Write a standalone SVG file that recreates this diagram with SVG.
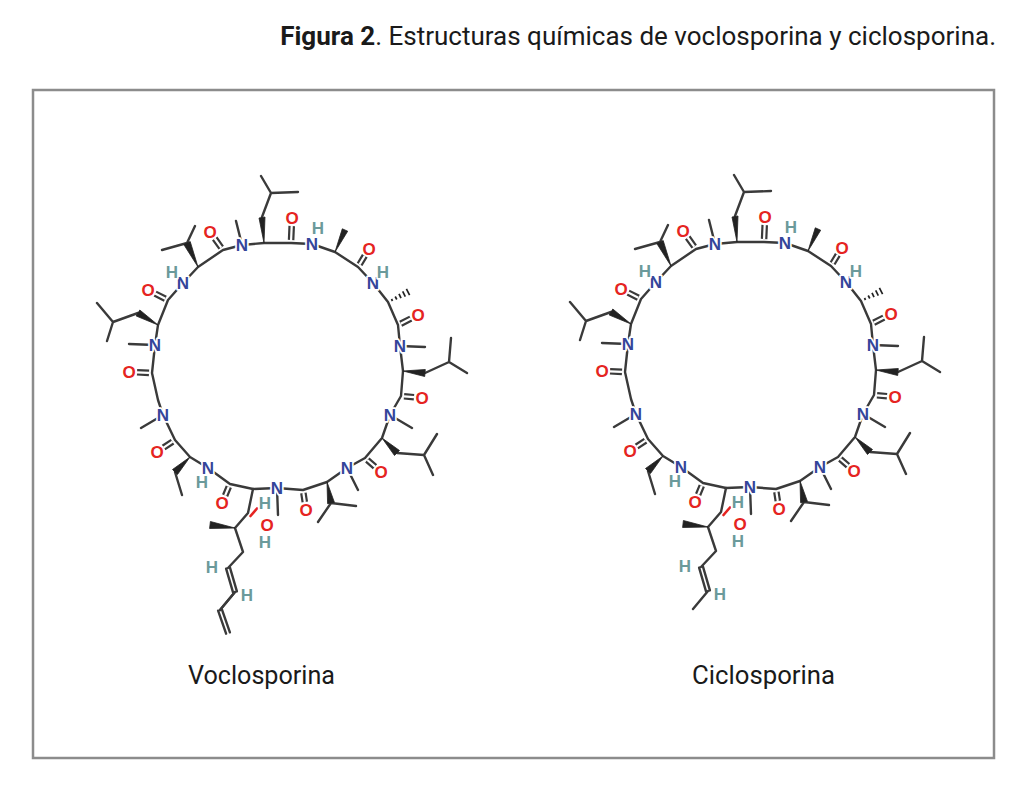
<svg xmlns="http://www.w3.org/2000/svg" xmlns:xlink="http://www.w3.org/1999/xlink" width="1024" height="788" viewBox="0 0 1024 788">
<style>
.bd{fill:none;stroke:#3a3a3a;stroke-width:2.4;stroke-linecap:round;stroke-linejoin:round}
.dk{fill:none;stroke:#3a3a3a;stroke-width:6.6;stroke-linecap:butt}
.wh{fill:none;stroke:#ffffff;stroke-width:2.2;stroke-linecap:butt}
.wg{fill:#222222;stroke:#222222;stroke-width:0.8;stroke-linejoin:round}
.hs{stroke:#222222;stroke-width:1.7}
.lab{font-family:"Liberation Sans",Arial,sans-serif;font-weight:bold;font-size:17px;text-anchor:middle;paint-order:stroke;stroke:#ffffff;stroke-width:3.5;stroke-linejoin:round}
.N{fill:#34459a}.O{fill:#e52421}.H{fill:#6b9a9b}
.cap{font-family:"Roboto","Liberation Sans",sans-serif;font-size:26px;fill:#1a1a1a;text-anchor:middle}
.ttl{font-family:"Roboto","Liberation Sans",sans-serif;font-size:26px;fill:#1a1a1a}
</style>
<defs>
<path id="co" d="M291.1,240 L291.7,226 M359.6,264.4 L364.8,255.8 M400.7,323.7 L410.8,318.6 M404,396.3 L414,397.2 M367.3,460 L375,466.7 M303.4,493 L304.8,502 M228.8,486.8 L225.1,495.6 M172.5,441.7 L163.6,447.6 M149,372.9 L137,372.3 M165.3,298.7 L155.1,293.6 M221.2,247.6 L214.7,238.5"/>
<g id="core">
<path class="bd" d="M242,245 L264,243 L291,243 L312,244 L335,252 L358,267 L373,283 L388,302 L398,325 L400,346 L403,371 L401,396 L390,415 L382,438 L365,458 L347,468 L327,482 L303,490 L277,488 L253,489 L230,484 L208,468 L190,457 L175,440 L163,415 L158,400 L152,373 L155,345 L158,325 L168,300 L183,283 L198,267 L223,250 Z"/>
<use xlink:href="#co" class="dk"/>
<use xlink:href="#co" class="wh"/>
<path class="bd" d="M242,245 L236,221 M400,346 L425,347 M390,415 L412,428 M347,468 L358,490 M277,488 L278,515 M163,415 L141,428 M155,345 L129,344"/>
<path class="bd" d="M262,217 L271,193 L261,176 M271,193 L298,192 M425,373 L449,362 L451,338 M449,362 L467,373 M397,453 L424,455 L437,434 M424,455 L433,475 M331,503 L318,522 M331,503 L356,506 M175,472 L182,495 M138,313 L113,322 L97,303 M113,322 L107,341 M187,243 L195,226 M187,243 L162,250"/>
<path class="bd" d="M253,489 L248,513 L235,528 L243,552 L228,568 M235,592 L220,610"/>
<path class="bd" d="M229.9,567.4 L236.9,591.4 M226.1,568.6 L233.1,592.6"/>
<path d="M250.5,516 L257,508.5" stroke="#e52421" stroke-width="2.6" stroke-linecap="round"/>
<polygon class="wg" points="264,243 259,218 265,217"/>
<polygon class="wg" points="335,252 347.7,231.2 342.3,228.8"/>
<polygon class="wg" points="403,371 424.7,376.5 425.3,369.5"/>
<polygon class="wg" points="382,438 394.5,455.5 399.5,450.5"/>
<polygon class="wg" points="327,482 327.6,503.7 334.4,502.3"/>
<polygon class="wg" points="190,457 177.5,474.5 172.5,469.5"/>
<polygon class="wg" points="158,325 139.8,310 136.2,316"/>
<polygon class="wg" points="198,267 190.2,241.5 183.8,244.5"/>
<polygon class="wg" points="235,528 210.4,521.5 209.6,528.5"/>
<path class="hs" d="M391.5,299 L392.5,301 M395.2,296.5 L396.8,299.5 M399,293.9 L401,298.1 M402.7,291.4 L405.3,296.6 M406.4,288.9 L409.6,295.1"/>
<g class="lab N">
<text x="242" y="251">N</text><text x="312" y="250">N</text><text x="373" y="289">N</text><text x="400" y="352">N</text><text x="390" y="421">N</text><text x="347" y="474">N</text><text x="277" y="494">N</text><text x="208" y="474">N</text><text x="163" y="421">N</text><text x="155" y="351">N</text><text x="183" y="289">N</text>
</g>
<g class="lab O">
<text x="292" y="224">O</text><text x="369" y="255">O</text><text x="418" y="321">O</text><text x="422" y="404">O</text><text x="381" y="478">O</text><text x="306" y="516">O</text><text x="222" y="509">O</text><text x="157" y="458">O</text><text x="129" y="378">O</text><text x="148" y="296">O</text><text x="210" y="238">O</text><text x="267" y="531">O</text>
</g>
<g class="lab H">
<text x="318" y="234">H</text><text x="383" y="278">H</text><text x="265" y="509">H</text><text x="202" y="488">H</text><text x="172" y="278">H</text><text x="265" y="548">H</text><text x="212" y="573">H</text><text x="247" y="601">H</text>
</g>
</g>
</defs>
<rect width="1024" height="788" fill="#ffffff"/>
<text class="ttl" x="996" y="45" text-anchor="end"><tspan font-weight="bold">Figura 2</tspan>. Estructuras químicas de voclosporina y ciclosporina.</text>
<rect id="frame" x="33" y="90" width="961" height="668" fill="none" stroke="#8c8c8c" stroke-width="2.5"/>
<g id="voclosporina">
<use xlink:href="#core"/>
<path class="bd" d="M220,610 L235,592"/>
<path class="bd" d="M221.9,609.3 L229.9,632.3 M218.1,610.7 L226.1,633.7"/>
<text class="cap" x="261.5" y="684" textLength="147" lengthAdjust="spacingAndGlyphs">Voclosporina</text>
</g>
<g id="ciclosporina">
<use xlink:href="#core" transform="translate(473,-1)"/>
<text class="cap" x="763.5" y="684" textLength="143" lengthAdjust="spacingAndGlyphs">Ciclosporina</text>
</g>
</svg>
